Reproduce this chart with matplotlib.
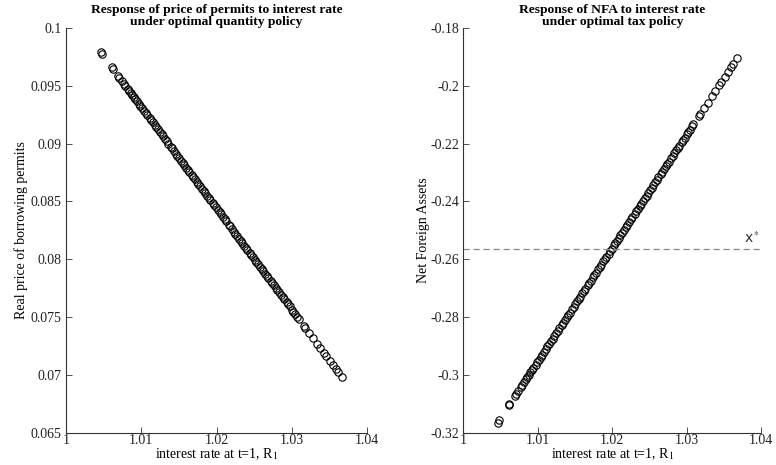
import numpy as np
import matplotlib
matplotlib.use('Agg')
import matplotlib.pyplot as plt
from matplotlib.ticker import FormatStrFormatter


plt.rcParams['font.family'] = ['Liberation Serif', 'DejaVu Serif']
plt.rcParams['mathtext.fontset'] = 'stix'
plt.rcParams['xtick.direction'] = 'in'
plt.rcParams['ytick.direction'] = 'in'

# simulated interest rate draws at t=1
rate = [1.0046, 1.0048, 1.0061, 1.0062, 1.0069, 1.0071, 1.0074, 1.0077, 1.0079, 1.0082,
        1.0084, 1.0086, 1.0088, 1.0090, 1.0092, 1.0094, 1.0097, 1.0099, 1.0101, 1.0104,
        1.0106, 1.0108, 1.0111, 1.0113, 1.0115, 1.0118, 1.0120, 1.0122, 1.0125, 1.0127,
        1.0129, 1.0132, 1.0134, 1.0136, 1.0139, 1.0141, 1.0143, 1.0146, 1.0148, 1.0150,
        1.0153, 1.0155, 1.0157, 1.0160, 1.0162, 1.0164, 1.0167, 1.0169, 1.0171, 1.0174,
        1.0176, 1.0178, 1.0181, 1.0183, 1.0185, 1.0188, 1.0190, 1.0192, 1.0195, 1.0197,
        1.0199, 1.0202, 1.0204, 1.0206, 1.0209, 1.0211, 1.0213, 1.0216, 1.0218, 1.0220,
        1.0223, 1.0225, 1.0227, 1.0230, 1.0232, 1.0234, 1.0237, 1.0239, 1.0241, 1.0244,
        1.0246, 1.0248, 1.0251, 1.0253, 1.0255, 1.0258, 1.0260, 1.0262, 1.0265, 1.0267,
        1.0269, 1.0272, 1.0274, 1.0276, 1.0279, 1.0281, 1.0283, 1.0286, 1.0288, 1.0290,
        1.0293, 1.0295, 1.0297, 1.0300, 1.0302, 1.0304, 1.0307, 1.0309, 1.0316, 1.0318,
        1.0323, 1.0328, 1.0334, 1.0338, 1.0343, 1.0346, 1.0351, 1.0355, 1.0359, 1.0362,
        1.0367]

# real price of borrowing permits (quantity policy)
permit_price = [0.09789, 0.09771, 0.09658, 0.09649, 0.09588, 0.09570, 0.09544, 0.09518, 0.09500, 0.09474,
                0.09456, 0.09439, 0.09421, 0.09404, 0.09386, 0.09369, 0.09343, 0.09325, 0.09308, 0.09281,
                0.09264, 0.09246, 0.09220, 0.09202, 0.09185, 0.09159, 0.09141, 0.09124, 0.09098, 0.09080,
                0.09063, 0.09036, 0.09019, 0.09001, 0.08975, 0.08958, 0.08940, 0.08914, 0.08896, 0.08879,
                0.08853, 0.08835, 0.08818, 0.08791, 0.08774, 0.08756, 0.08730, 0.08713, 0.08695, 0.08669,
                0.08651, 0.08634, 0.08608, 0.08590, 0.08573, 0.08546, 0.08529, 0.08511, 0.08485, 0.08468,
                0.08450, 0.08424, 0.08406, 0.08389, 0.08363, 0.08345, 0.08328, 0.08301, 0.08284, 0.08266,
                0.08240, 0.08223, 0.08205, 0.08179, 0.08161, 0.08144, 0.08118, 0.08100, 0.08083, 0.08056,
                0.08039, 0.08021, 0.07995, 0.07978, 0.07960, 0.07934, 0.07916, 0.07899, 0.07873, 0.07855,
                0.07838, 0.07811, 0.07794, 0.07776, 0.07750, 0.07733, 0.07715, 0.07689, 0.07671, 0.07654,
                0.07628, 0.07610, 0.07593, 0.07566, 0.07549, 0.07531, 0.07505, 0.07488, 0.07426, 0.07409,
                0.07365, 0.07321, 0.07269, 0.07234, 0.07190, 0.07164, 0.07120, 0.07085, 0.07050, 0.07024,
                0.06980]

# net foreign assets (tax policy)
nfa = [-0.3164, -0.3156, -0.3105, -0.3101, -0.3074, -0.3066, -0.3054, -0.3042, -0.3034, -0.3023,
       -0.3015, -0.3007, -0.2999, -0.2991, -0.2983, -0.2976, -0.2964, -0.2956, -0.2948, -0.2936,
       -0.2929, -0.2921, -0.2909, -0.2901, -0.2893, -0.2882, -0.2874, -0.2866, -0.2854, -0.2846,
       -0.2838, -0.2827, -0.2819, -0.2811, -0.2799, -0.2791, -0.2784, -0.2772, -0.2764, -0.2756,
       -0.2744, -0.2736, -0.2729, -0.2717, -0.2709, -0.2701, -0.2689, -0.2682, -0.2674, -0.2662,
       -0.2654, -0.2646, -0.2634, -0.2627, -0.2619, -0.2607, -0.2599, -0.2591, -0.2580, -0.2572,
       -0.2564, -0.2552, -0.2544, -0.2536, -0.2525, -0.2517, -0.2509, -0.2497, -0.2489, -0.2482,
       -0.2470, -0.2462, -0.2454, -0.2442, -0.2434, -0.2427, -0.2415, -0.2407, -0.2399, -0.2387,
       -0.2380, -0.2372, -0.2360, -0.2352, -0.2344, -0.2332, -0.2325, -0.2317, -0.2305, -0.2297,
       -0.2289, -0.2278, -0.2270, -0.2262, -0.2250, -0.2242, -0.2234, -0.2223, -0.2215, -0.2207,
       -0.2195, -0.2187, -0.2180, -0.2168, -0.2160, -0.2152, -0.2140, -0.2132, -0.2105, -0.2097,
       -0.2078, -0.2058, -0.2034, -0.2019, -0.1999, -0.1987, -0.1968, -0.1952, -0.1936, -0.1925,
       -0.1905]

nfa_target = -0.2563

x_ticks = [1, 1.01, 1.02, 1.03, 1.04]
left_yticks = [0.065, 0.07, 0.075, 0.08, 0.085, 0.09, 0.095, 0.1]
right_yticks = [-0.32, -0.3, -0.28, -0.26, -0.24, -0.22, -0.2, -0.18]


def style_axes(ax, yticks):
    ax.set_xlim(1, 1.04)
    ax.set_ylim(yticks[0], yticks[-1])
    ax.set_xticks(x_ticks)
    ax.set_yticks(yticks)
    ax.xaxis.set_major_formatter(FormatStrFormatter('%g'))
    ax.yaxis.set_major_formatter(FormatStrFormatter('%g'))
    ax.spines['top'].set_visible(False)
    ax.spines['right'].set_visible(False)
    for s in ('left', 'bottom'):
        ax.spines[s].set_color('#333333')
        ax.spines[s].set_linewidth(0.8)
    ax.tick_params(labelsize=10, length=4, width=0.6, colors='#333333', labelcolor='#222222')
    ax.tick_params(axis='x', pad=1)
    ax.tick_params(axis='y', pad=3)
    ax.set_xlabel('interest rate at t=1, R$_1$', fontsize=10, labelpad=-1)


fig = plt.figure(figsize=(7.76, 4.65), dpi=100)

ax1 = fig.add_axes([0.085, 0.069, 0.388, 0.871])
ax1.plot(rate, permit_price, 'o', mfc='none', mec='black', mew=0.8, ms=5.3)
style_axes(ax1, left_yticks)
ax1.set_ylabel('Real price of borrowing permits', fontsize=10, labelpad=2)
ax1.set_title('Response of price of permits to interest rate\nunder optimal quantity policy',
              fontsize=9.7, fontweight='bold', linespacing=1.0, pad=0)

ax2 = fig.add_axes([0.597, 0.069, 0.384, 0.871])
ax2.plot(rate, nfa, 'o', mfc='none', mec='black', mew=0.8, ms=5.3)
ax2.axhline(nfa_target, color='#888888', lw=0.9, ls=(0, (5, 3)))
ax2.text(1.0377, nfa_target + 0.0009, r'x$^*$', fontsize=10, family='DejaVu Sans',
         color='#333333', ha='left', va='bottom')
style_axes(ax2, right_yticks)
ax2.set_ylabel('Net Foreign Assets', fontsize=10, labelpad=0)
ax2.set_title('Response of NFA to interest rate\nunder optimal tax policy',
              fontsize=9.7, fontweight='bold', linespacing=1.0, pad=0)

fig.savefig('out.png', dpi=100)
